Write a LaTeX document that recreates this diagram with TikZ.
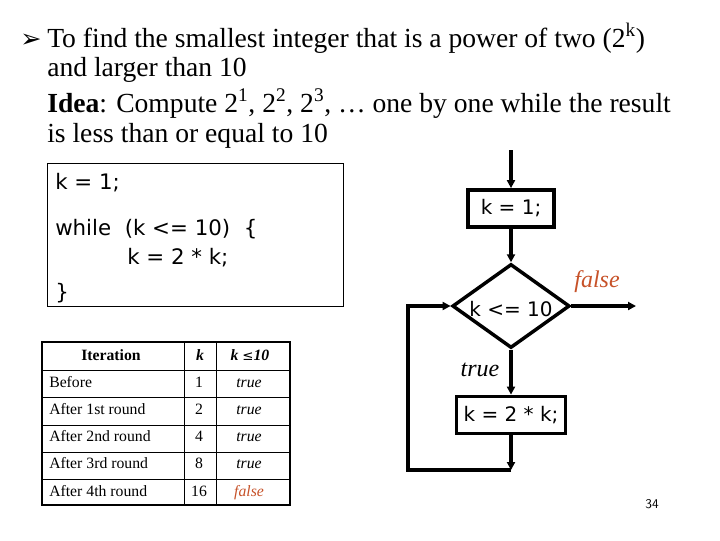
\documentclass[tikz,border=0pt]{standalone}
\usepackage{fontspec}
\setmainfont{Liberation Serif}
\newfontfamily\codef{DejaVu Sans}
\newfontfamily\symf{DejaVu Sans}
\usetikzlibrary{shapes.geometric,arrows.meta}
\definecolor{falsec}{rgb}{0.78,0.32,0.16}
\begin{document}
\begin{tikzpicture}[x=0.75pt,y=-0.75pt,
  txt/.style={anchor=base west,inner sep=0pt,font=\fontsize{20.7}{24}\selectfont},
  code/.style={anchor=base west,inner sep=0pt,font=\codef\fontsize{16}{19}\selectfont},
  fbox/.style={draw,line width=2.6pt,minimum height=28pt,inner sep=0pt,font=\codef\fontsize{15}{18}\selectfont},
  flow/.style={line width=2.6pt,-{Triangle[length=6pt,width=6pt]}},
  cell/.style={anchor=base west,inner sep=0pt,font=\fontsize{11.8}{13}\selectfont},
  cellc/.style={anchor=base,inner sep=0pt,font=\fontsize{11.8}{13}\selectfont}]
\useasboundingbox (0,0) rectangle (720,540);
\fill[white] (0,0) rectangle (720,540);
% title
\node[txt,font=\symf\fontsize{19}{20}\selectfont] (bul) at (20,47) {➢};
\node[txt] (l1) at (47,47) {To find the smallest integer that is a power of two (2\textsuperscript{k})};
\node[txt] (l2) at (47,76) {and larger than 10};
\node[txt] (l3) at (47,112) {\textbf{Idea}: Compute 2\textsuperscript{1}, 2\textsuperscript{2}, 2\textsuperscript{3}, … one by one while the result};
\node[txt] (l4) at (47,142) {is less than or equal to 10};
% code box
\draw[line width=0.6pt] (47,163) rectangle (343,306);
\node[code] (c1) at (55,189) {k = 1;};
\node[code] (c2) at (55,235) {while\ \ (k <= 10)\ \ \{};
\node[code] (c3) at (127,264) {k = 2 * k;};
\node[code] (c4) at (55,299) {\}};
% table
\draw[line width=2pt] (42,342) rectangle (290,505);
\foreach \yy in {370,397,425,452,479} \draw[line width=0.5pt] (42,\yy) -- (290,\yy);
\draw[line width=0.5pt] (184,342) -- (184,505);
\draw[line width=0.5pt] (216,342) -- (216,505);
\node[cellc] (h1) at (111,360) {\textbf{Iteration}};
\node[cellc] (h2) at (200,360) {\textbf{\textit{k}}};
\node[cellc] (h3) at (250,360) {\textbf{\textit{k}} {\symf\fontsize{10}{11}\selectfont ≤}\textbf{\textit{10}}};
\foreach \lab/\kv/\tv [count=\i] in {Before/1/true,After 1st round/2/true,After 2nd round/4/true,After 3rd round/8/true} {
  \node[cell] (r\i) at (49,{360+27.2*\i}) {\lab};
  \node[cellc] (k\i) at (199,{360+27.2*\i}) {\kv};
  \node[cellc] (t\i) at (249,{360+27.2*\i}) {\textit{\tv}};
}
\node[cell] (r5) at (49,496) {After 4th round};
\node[cellc] (k5) at (199,496) {16};
\node[cellc,text=falsec] (t5) at (249,496) {\textit{false}};
% flowchart
\coordinate (start) at (511,150);
\node[fbox,minimum width=86pt*0.75] (b1) at (511,208.5) {k = 1;};
\node[draw,diamond,line width=2.6pt,aspect=1.4,minimum width=88pt,minimum height=63pt,inner sep=0pt] (d) at (511,306) {};
\node[inner sep=0pt,font=\codef\fontsize{15}{18}\selectfont] (dl) at (511,309) {k <= 10};
\node[fbox,minimum width=109pt*0.75] (b2) at (511,415) {k = 2 * k;};
\coordinate (fe) at (636,306);
\coordinate (lb) at (511,470);
\coordinate (ll) at (408,470);
\coordinate (lt) at (408,306);
\draw[flow] (start) -- (b1.north);
\draw[flow] (b1.south) -- (d.north);
\draw[flow] (d.east) -- (fe);
\draw[flow] (d.south) -- (b2.north);
\draw[flow] (b2.south) -- (lb);
\draw[flow,line join=miter] (lb) -- (ll) -- (lt) -- (d.west);
\node[anchor=base,inner sep=0pt,font=\fontsize{18}{20}\selectfont\itshape,text=falsec] (fl) at (597,287) {false};
\node[anchor=base,inner sep=0pt,font=\fontsize{18}{20}\selectfont\itshape] (tl) at (480,376) {true};
\node[anchor=base,inner sep=0pt,font=\sffamily\fontsize{10}{11}\selectfont] (pg) at (652,508) {34};
\end{tikzpicture}
\end{document}
